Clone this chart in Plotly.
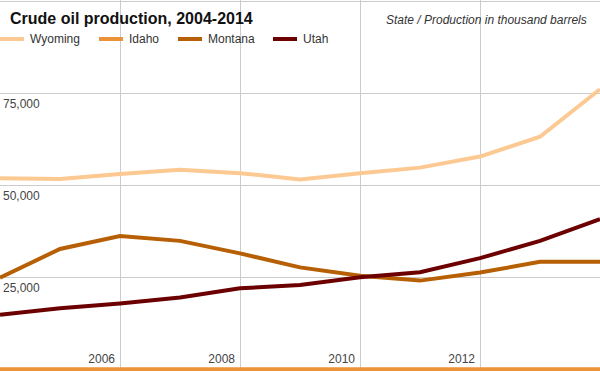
import plotly.graph_objects as go

years = [2004, 2005, 2006, 2007, 2008, 2009, 2010, 2011, 2012, 2013, 2014]
wyoming = [51900, 51700, 53100, 54200, 53300, 51600, 53300, 54800, 57800, 63200, 76100]
idaho = [0, 0, 0, 0, 0, 0, 0, 0, 0, 0, 0]
montana = [24900, 32700, 36200, 34900, 31500, 27700, 25400, 24100, 26300, 29200, 29200]
utah = [14800, 16600, 17900, 19500, 22000, 22900, 25000, 26400, 30200, 34900, 40800]

names = ["Wyoming", "Idaho", "Montana", "Utah"]
colors = ["#FCC993", "#EC9238", "#B65F05", "#6C0000"]
values = [wyoming, idaho, montana, utah]

x_tickvals = [2004, 2006, 2008, 2010, 2012, 2014]
x_ticktext = ["", "2006", "2008", "2010", "2012", ""]
y_tickvals = [0, 25000, 50000, 75000, 100000]
y_ticktext = ["", "25,000", "50,000", "75,000", ""]

fig = go.Figure()
for name, vals, color in zip(names, values, colors):
    fig.add_trace(go.Scatter(x=years, y=vals, name=name, mode="lines",
                             line=dict(color=color, width=4), cliponaxis=True))

W, H = 600, 371

# manual legend (line sample + label), positions in pixels
legend_x = [0, 99, 178, 273]
legend_y = 39
shapes = []
annotations = []
for lx, name, color in zip(legend_x, names, colors):
    shapes.append(dict(type="line", xref="paper", yref="paper",
                       x0=lx / W, x1=(lx + 24) / W, y0=1 - legend_y / H, y1=1 - legend_y / H,
                       line=dict(color=color, width=4)))
    annotations.append(dict(text=name, xref="paper", yref="paper", x=(lx + 28) / W,
                            xanchor="left", y=1 - legend_y / H, yanchor="middle",
                            showarrow=False, font=dict(size=12, color="#333333")))

annotations.append(dict(text="<i>State / Production in thousand barrels</i>", xref="paper",
                        yref="paper", x=1 - 11 / W, xanchor="right", y=1 - 20 / H,
                        yanchor="middle", showarrow=False,
                        font=dict(size=12, color="#333333")))

fig.update_layout(
    width=W, height=H,
    margin=dict(l=0, r=0, t=0, b=0),
    paper_bgcolor="white", plot_bgcolor="white",
    font=dict(family="Liberation Sans, Arial, sans-serif", size=12, color="#333333"),
    title=dict(text="<b>Crude oil production, 2004-2014</b>", x=10 / W, xanchor="left",
               y=1 - 18 / H, yanchor="middle", font=dict(size=16, color="#111111")),
    showlegend=False,
    xaxis=dict(range=[2004, 2014], tickvals=x_tickvals, ticktext=x_ticktext,
               showgrid=True, gridcolor="#CCCCCC", gridwidth=1, zeroline=False,
               ticklabelposition="inside left", ticklabelshift=-5, ticks="", showline=False,
               tickfont=dict(size=12, color="#444444")),
    yaxis=dict(range=[-460, 100350], tickvals=y_tickvals, ticktext=y_ticktext,
               showgrid=True, gridcolor="#CCCCCC", gridwidth=1, zeroline=False,
               ticklabelposition="inside bottom", ticklabelshift=2, ticks="", showline=False,
               tickfont=dict(size=12, color="#444444")),
    shapes=shapes,
    annotations=annotations,
)

fig.write_html("out.html", config={"displayModeBar": False},
               post_script="document.body.style.margin='0';document.body.style.overflow='hidden';")
